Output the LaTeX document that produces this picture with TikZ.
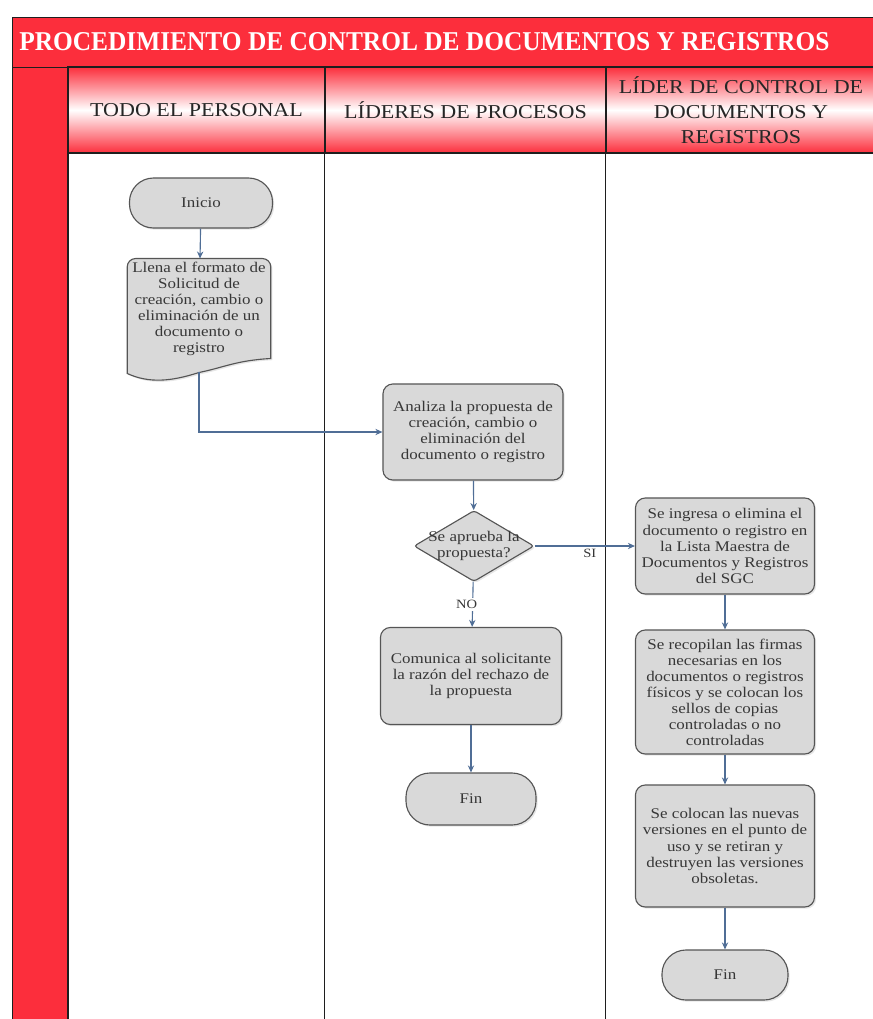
\documentclass[tikz,border=0pt]{standalone}
\usepackage{fontspec}
\setmainfont{Liberation Serif}
\newfontfamily\cajafont[FakeStretch=1.15]{Liberation Serif}
\newfontfamily\cabfont[FakeStretch=1.12]{Liberation Serif}
\usetikzlibrary{shapes.geometric, arrows.meta, positioning, calc, backgrounds, shadows}
\definecolor{RojoBanda}{RGB}{252, 46, 60}
\definecolor{GrisCaja}{RGB}{217, 217, 217}
\definecolor{BordeCaja}{RGB}{85, 85, 85}
\definecolor{AzulFlecha}{RGB}{80, 110, 150}
\definecolor{TextoCaja}{RGB}{55, 55, 55}
\definecolor{Linea}{RGB}{30, 30, 30}

\begin{document}
\begin{tikzpicture}[x=0.025cm, y=-0.025cm,
    sombra/.style={drop shadow={shadow xshift=1.2pt, shadow yshift=-1.2pt, opacity=0.2}},
    caja/.style={draw=BordeCaja, line width=0.8pt, fill=GrisCaja, rounded corners=7pt, sombra, align=center, text=TextoCaja, font=\cajafont\fontsize{10.5}{11.4}\selectfont, inner sep=2pt},
    terminal/.style={caja, rounded corners=0.6cm, minimum height=1.25cm},
    flecha/.style={draw=AzulFlecha, line width=0.8pt, -{Stealth[length=5pt, width=4.5pt]}},
    cabecera/.style={draw=Linea, line width=1pt, top color=RojoBanda, bottom color=RojoBanda, middle color=white, align=center, text=black!85, font=\cabfont\fontsize{14}{17.8}\selectfont, minimum height=2.15cm, inner sep=0pt},
    etiqueta/.style={text=TextoCaja, font=\cajafont\fontsize{9}{10}\selectfont, inner sep=1.5pt}]
    \useasboundingbox (0,0) rectangle (873,1019);
    \node[draw=Linea, line width=1pt, fill=RojoBanda, anchor=north west, minimum width=21.8cm, minimum height=1.25cm, inner sep=0pt] (barra) at (12,17) {};
    \node[anchor=west, text=white, inner sep=0pt] (titulo) at (19,42) {\resizebox{20.25cm}{0.45cm}{\bfseries PROCEDIMIENTO DE CONTROL DE DOCUMENTOS Y REGISTROS}};
    \node[draw=Linea, line width=1pt, fill=RojoBanda, anchor=north west, minimum width=1.4cm, minimum height=24cm, inner sep=0pt] (columna) at (12,67) {};
    \node[cabecera, minimum width=6.425cm] (personal) at (196.5,110) {TODO EL PERSONAL};
    \node[cabecera, minimum width=7.025cm] (lideres) at (465.5,110) {LÍDERES DE PROCESOS};
    \node[cabecera, minimum width=6.75cm] (lidercontrol) at (741,110) {LÍDER DE CONTROL DE\\DOCUMENTOS Y\\REGISTROS};
    \draw[Linea, line width=1pt] (personal.south west) -- ++(0,880);
    \draw[Linea, line width=1pt] (lideres.south west) -- ++(0,880);
    \draw[Linea, line width=1pt] (lidercontrol.south west) -- ++(0,880);

    \node[terminal, minimum width=3.575cm] (inicio) at (201,203) {Inicio};
    \node[minimum width=3.575cm, minimum height=2.75cm, align=center, text=TextoCaja, font=\cajafont\fontsize{10.5}{11.4}\selectfont, inner sep=2pt] (llena) at (199,317) {Llena el formato de\\Solicitud de\\creación, cambio o\\eliminación de un\\documento o\\registro\\[3pt]};
    \begin{scope}[on background layer]
        \draw[draw=BordeCaja, line width=0.8pt, fill=GrisCaja, sombra] ($(llena.south west)+(0,-2)$) [rounded corners=6pt] -- (llena.north west) -- (llena.north east) [sharp corners] -- ($(llena.south east)+(0,-17)$) .. controls ($(llena.south east)+(-35,-15)$) and ($(llena.south)+(25,-8)$) .. ($(llena.south)+(0,-3)$) .. controls ($(llena.south)+(-28,6)$) and ($(llena.south west)+(22,8)$) .. ($(llena.south west)+(0,-2)$) -- cycle;
    \end{scope}
    \node[caja, minimum width=4.5cm, minimum height=2.4cm] (analiza) at (473,432) {Analiza la propuesta de\\creación, cambio o\\eliminación del\\documento o registro};
    \node[caja, diamond, rounded corners=2pt, minimum width=3cm, minimum height=1.775cm, inner sep=0pt, label={[align=center, text=TextoCaja, font=\cajafont\fontsize{10.5}{11.4}\selectfont]center:Se aprueba la\\propuesta?}] (aprueba) at (474,546) {};
    \node[caja, minimum width=4.525cm, minimum height=2.425cm] (comunica) at (471,676) {Comunica al solicitante\\la razón del rechazo de\\la propuesta};
    \node[terminal, minimum width=3.25cm, minimum height=1.3cm] (fin1) at (471,799) {Fin};
    \node[caja, minimum width=4.475cm, minimum height=2.4cm] (ingresa) at (725,546) {Se ingresa o elimina el\\documento o registro en\\la Lista Maestra de\\Documentos y Registros\\del SGC};
    \node[caja, minimum width=4.475cm, minimum height=3.1cm] (recopilan) at (725,692) {Se recopilan las firmas\\necesarias en los\\documentos o registros\\físicos y se colocan los\\sellos de copias\\controladas o no\\controladas};
    \node[caja, minimum width=4.475cm, minimum height=3.05cm] (colocan) at (725,846) {Se colocan las nuevas\\versiones en el punto de\\uso y se retiran y\\destruyen las versiones\\obsoletas.};
    \node[terminal, minimum width=3.15cm] (fin2) at (725,975) {Fin};

    \draw[flecha] (inicio) -- (llena);
    \draw[flecha] ($(llena.south)+(0,-3)$) |- (analiza.west);
    \draw[flecha] (analiza) -- (aprueba);
    \draw[flecha] (aprueba) -- node[etiqueta, below, pos=0.55] {SI} (ingresa);
    \draw[flecha] (aprueba) -- node[etiqueta, fill=white, pos=0.5, xshift=-0.15cm] {NO} (comunica);
    \draw[flecha] (comunica) -- (fin1);
    \draw[flecha] (ingresa) -- (recopilan);
    \draw[flecha] (recopilan) -- (colocan);
    \draw[flecha] (colocan) -- (fin2);
\end{tikzpicture}
\end{document}
